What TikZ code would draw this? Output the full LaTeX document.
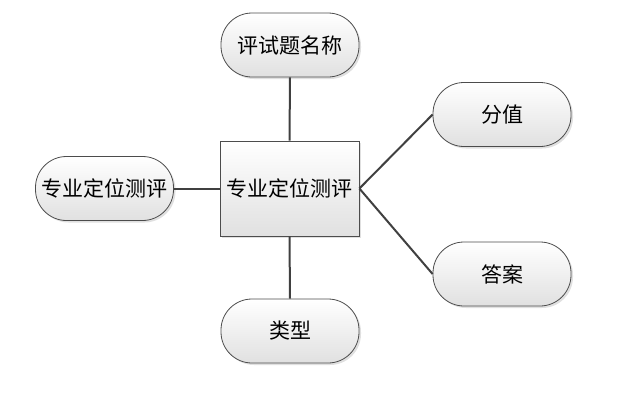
\documentclass[tikz,border=0pt]{standalone}
\usepackage{fontspec}
\newfontfamily\cjk{Noto Sans CJK SC}
\usetikzlibrary{shadows}
\begin{document}
\begin{tikzpicture}[x=1pt,y=-1pt,
  pill/.style={draw=black!70, line width=0.8pt, rounded corners=31pt, minimum width=138pt, minimum height=64pt,
    top color=white, bottom color=black!12, drop shadow={shadow xshift=2pt, shadow yshift=-2pt, fill=black!20, opacity=0.6},
    font=\cjk\fontsize{21}{24}\selectfont, inner sep=0pt},
  mainbox/.style={draw=black!70, line width=0.8pt, minimum width=139pt, minimum height=95pt,
    top color=white, bottom color=black!12, drop shadow={shadow xshift=2pt, shadow yshift=-2pt, fill=black!20, opacity=0.6},
    font=\cjk\fontsize{21}{24}\selectfont, inner sep=0pt},
  conn/.style={draw=black!75, line width=2pt}]
\useasboundingbox (0,0) rectangle (638,402);
\node[mainbox] (c) at (289.5,188.5) {专业定位测评};
\node[pill] (t) at (290,45) {评试题名称};
\node[pill] (l) at (104.5,188.5) {专业定位测评};
\node[pill] (r1) at (502,114.5) {分值};
\node[pill] (r2) at (502,274) {答案};
\node[pill] (b) at (290,331) {类型};
\draw[conn] (t.south) -- (c.north);
\draw[conn] (l.east) -- (c.west);
\draw[conn] (c.east) -- (r1.west);
\draw[conn] (c.east) -- (r2.west);
\draw[conn] (c.south) -- (b.north);
\end{tikzpicture}
\end{document}
